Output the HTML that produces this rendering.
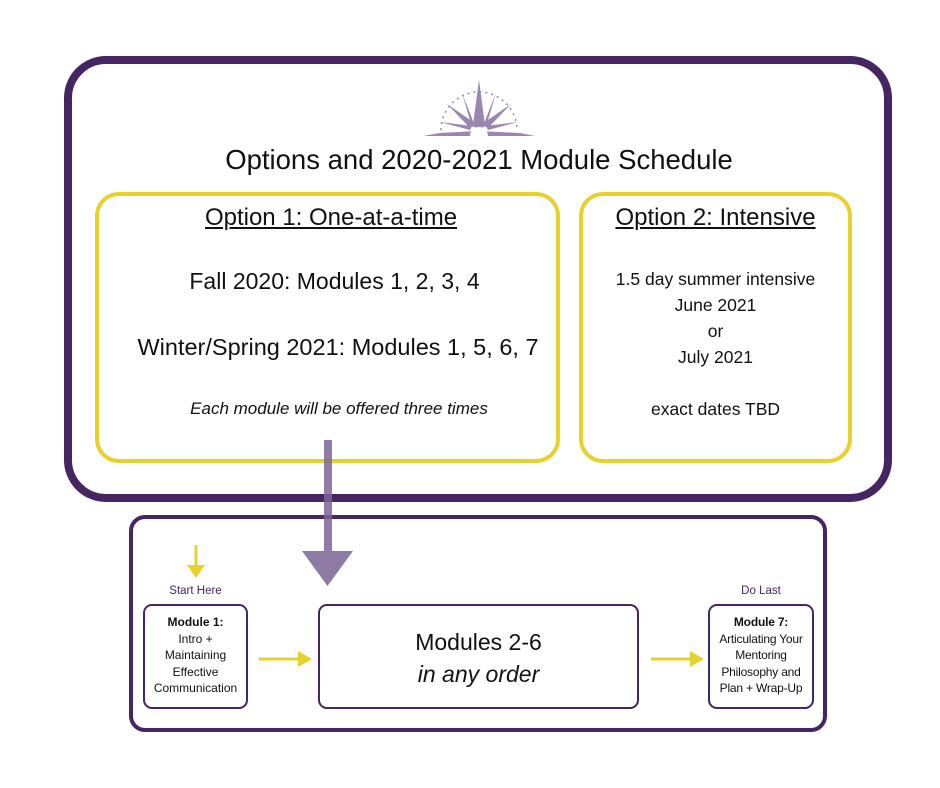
<!DOCTYPE html>
<html><head><meta charset="utf-8"><style>
body{margin:0;width:940px;height:788px;background:#fff;position:relative;overflow:hidden;font-family:"Liberation Sans",sans-serif;color:#111}
.a{position:absolute;box-sizing:border-box}
.t{position:absolute;text-align:center;white-space:nowrap}
</style></head><body>
<div class="a" style="left:64px;top:56px;width:828px;height:446px;border:8.5px solid #462563;border-radius:42px"></div>
<div class="a" style="left:95px;top:192px;width:465px;height:271px;border:4.5px solid #e8d12c;border-radius:24px"></div>
<div class="a" style="left:579px;top:192px;width:273px;height:271px;border:4.5px solid #e8d12c;border-radius:24px"></div>
<div class="a" style="left:129px;top:515px;width:698px;height:217px;border:4px solid #462563;border-radius:16px"></div>
<div class="a" style="left:143px;top:604px;width:105px;height:105px;border:2.5px solid #462563;border-radius:9px"></div>
<div class="a" style="left:318px;top:604px;width:321px;height:105px;border:2.5px solid #462563;border-radius:9px"></div>
<div class="a" style="left:708px;top:604px;width:106px;height:105px;border:2.5px solid #462563;border-radius:9px"></div>

<svg class="a" style="left:0;top:0" width="940" height="788">
 <g fill="#9a86b0" stroke="#9a86b0">
  <path d="M423 136 L535 136 L520 133 L478 131 L440 133 Z" stroke="none"/>
  <path d="M479 80 L473 125 L479 132 L485 125 Z" stroke="none"/>
  <path d="M447 104 L470 128 L476 124 Z" stroke="none"/>
  <path d="M511 104 L488 128 L482 124 Z" stroke="none"/>
  <path d="M440 122 L470 130 L472 126 Z" stroke="none"/>
  <path d="M518 122 L488 130 L486 126 Z" stroke="none"/>
  <path d="M462 93 L472 127 L475 126 Z" stroke="none"/>
  <path d="M496 93 L486 127 L483 126 Z" stroke="none"/>
  <path d="M441 130 A38 38 0 0 1 517 130" fill="none" stroke-width="1.5" stroke-dasharray="2 4"/>
  <path d="M470 136 A9 9 0 0 1 488 136 Z" fill="#fff" stroke="none"/>
 </g>
 <rect x="324" y="440" width="8" height="112" fill="#7d6596" fill-opacity="0.85"/>
 <path d="M302 551 L353 551 L327.5 586 Z" fill="#8e7aa3"/>
 <g stroke="#e8d12c" stroke-width="3" fill="#e8d12c">
  <line x1="196" y1="545" x2="196" y2="566"/><path d="M187 565 L205 565 L196 578 Z" stroke="none"/>
  <line x1="259" y1="659" x2="300" y2="659"/><path d="M298 651 L312 659 L298 667 Z" stroke="none"/>
  <line x1="651" y1="659" x2="692" y2="659"/><path d="M690 651 L704 659 L690 667 Z" stroke="none"/>
 </g>
</svg>

<div class="t" style="left:0;width:958px;top:144px;font-size:27.5px">Options and 2020-2021 Module Schedule</div>
<div class="t" style="left:95px;width:472px;top:204px;font-size:24px;text-decoration:underline">Option 1: One-at-a-time</div>
<div class="t" style="left:95px;width:479px;top:268px;font-size:23px">Fall 2020: Modules 1, 2, 3, 4</div>
<div class="t" style="left:95px;width:486px;top:334px;font-size:23.5px">Winter/Spring 2021: Modules 1, 5, 6, 7</div>
<div class="t" style="left:95px;width:488px;top:399px;font-size:17px;font-style:italic">Each module will be offered three times</div>
<div class="t" style="left:579px;width:273px;top:204px;font-size:24px;text-decoration:underline">Option 2: Intensive</div>
<div class="t" style="left:579px;width:273px;top:266px;font-size:17.5px;line-height:26px">1.5 day summer intensive<br>June 2021<br>or<br>July 2021<br><br>exact dates TBD</div>
<div class="t" style="left:143px;width:105px;top:585px;font-size:11.5px;color:#462563">Start Here</div>
<div class="t" style="left:708px;width:106px;top:585px;font-size:11.5px;color:#462563">Do Last</div>
<div class="t" style="left:143px;width:105px;top:614px;font-size:12px;line-height:16.5px"><b>Module 1:</b><br>Intro +<br>Maintaining<br>Effective<br>Communication</div>
<div class="t" style="left:708px;width:106px;top:614px;font-size:12px;line-height:16.5px;letter-spacing:-0.2px"><b>Module 7:</b><br>Articulating Your<br>Mentoring<br>Philosophy and<br>Plan + Wrap-Up</div>
<div class="t" style="left:318px;width:321px;top:626px;font-size:23px;line-height:32px">Modules 2-6<br><i>in any order</i></div>
</body></html>
